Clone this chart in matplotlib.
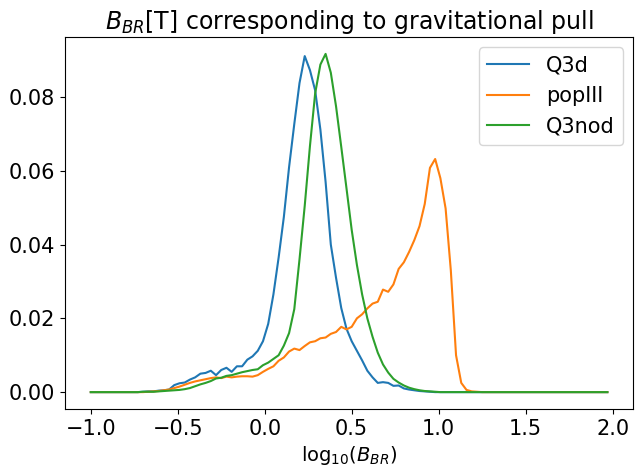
import numpy as np
import matplotlib
matplotlib.use("Agg")
from matplotlib import pyplot as plt

# log10(B_BR) grid (bin positions), step 0.03
x_vals = np.round(np.arange(100) * 0.03 - 1.0, 2)

q3d = [0, 0, 0, 0, 0, 0, 0, 0, 0, 0,
       0.0001, 0.0002, 0.0002, 0.0004, 0.0005, 0.0007, 0.0019, 0.0024, 0.0026, 0.0034,
       0.0040, 0.0050, 0.0052, 0.0058, 0.0046, 0.0060, 0.0066, 0.0055, 0.0070, 0.0070,
       0.0088, 0.0097, 0.0112, 0.0138, 0.0185, 0.0265, 0.0365, 0.0475, 0.0610, 0.0727,
       0.0838, 0.0911, 0.0873, 0.0818, 0.0712, 0.0570, 0.0400, 0.0310, 0.0228, 0.0172,
       0.0138, 0.0112, 0.0086, 0.0058, 0.0040, 0.0025, 0.0027, 0.0025, 0.0017, 0.0018,
       0.0010, 0.0007, 0.0005, 0.0003, 0.0002, 0.0001, 0, 0, 0, 0,
       0, 0, 0, 0, 0, 0, 0, 0, 0, 0,
       0, 0, 0, 0, 0, 0, 0, 0, 0, 0,
       0, 0, 0, 0, 0, 0, 0, 0, 0, 0]

popiii = [0, 0, 0, 0, 0, 0, 0, 0, 0, 0,
          0, 0.0001, 0.0002, 0.0003, 0.0005, 0.0007, 0.0011, 0.0015, 0.0020, 0.0025,
          0.0029, 0.0032, 0.0035, 0.0038, 0.0040, 0.0038, 0.0042, 0.0040, 0.0042, 0.0043,
          0.0043, 0.0042, 0.0046, 0.0055, 0.0063, 0.0070, 0.0085, 0.0094, 0.0110, 0.0118,
          0.0114, 0.0125, 0.0135, 0.0138, 0.0146, 0.0148, 0.0158, 0.0163, 0.0177, 0.0170,
          0.0177, 0.0200, 0.0211, 0.0227, 0.0240, 0.0245, 0.0278, 0.0272, 0.0292, 0.0334,
          0.0352, 0.0380, 0.0412, 0.0450, 0.0510, 0.0608, 0.0632, 0.0580, 0.0498, 0.0330,
          0.0100, 0.0025, 0.0006, 0.0002, 0.0001, 0, 0, 0, 0, 0,
          0, 0, 0, 0, 0, 0, 0, 0, 0, 0,
          0, 0, 0, 0, 0, 0, 0, 0, 0, 0]

q3nod = [0, 0, 0, 0, 0, 0, 0, 0, 0, 0,
         0.0001, 0.0001, 0.0001, 0.0002, 0.0003, 0.0004, 0.0005, 0.0006, 0.0008, 0.0011,
         0.0016, 0.0021, 0.0025, 0.0030, 0.0037, 0.0039, 0.0044, 0.0046, 0.0050, 0.0054,
         0.0057, 0.0060, 0.0062, 0.0073, 0.0080, 0.0090, 0.0100, 0.0126, 0.0160, 0.0225,
         0.0360, 0.0505, 0.0667, 0.0810, 0.0888, 0.0917, 0.0866, 0.0775, 0.0665, 0.0553,
         0.0440, 0.0345, 0.0265, 0.0200, 0.0150, 0.0107, 0.0075, 0.0053, 0.0036, 0.0026,
         0.0018, 0.0012, 0.0008, 0.0005, 0.0003, 0.0002, 0.0001, 0, 0, 0,
         0, 0, 0, 0, 0, 0, 0, 0, 0, 0,
         0, 0, 0, 0, 0, 0, 0, 0, 0, 0,
         0, 0, 0, 0, 0, 0, 0, 0, 0, 0]

series = [("Q3d", q3d), ("popIII", popiii), ("Q3nod", q3nod)]

fig = plt.figure(figsize=(6.37, 4.68), dpi=100)
ax = fig.add_axes([0.102, 0.126, 0.892, 0.795])
for name, vals in series:
    ax.plot(x_vals, vals, lw=1.5, label=name)

ax.set_xticks([-1.0, -0.5, 0.0, 0.5, 1.0, 1.5, 2.0])
ax.set_yticks([0.0, 0.02, 0.04, 0.06, 0.08])
ax.tick_params(labelsize=15)
ax.set_xlabel(r"log$_{10}$($B_{BR}$)", fontsize=14)
ax.set_title(r"$B_{BR}$[T] corresponding to gravitational pull", fontsize=17)
ax.legend(loc="upper right", fontsize=15)

fig.savefig("out.png", dpi=100)
